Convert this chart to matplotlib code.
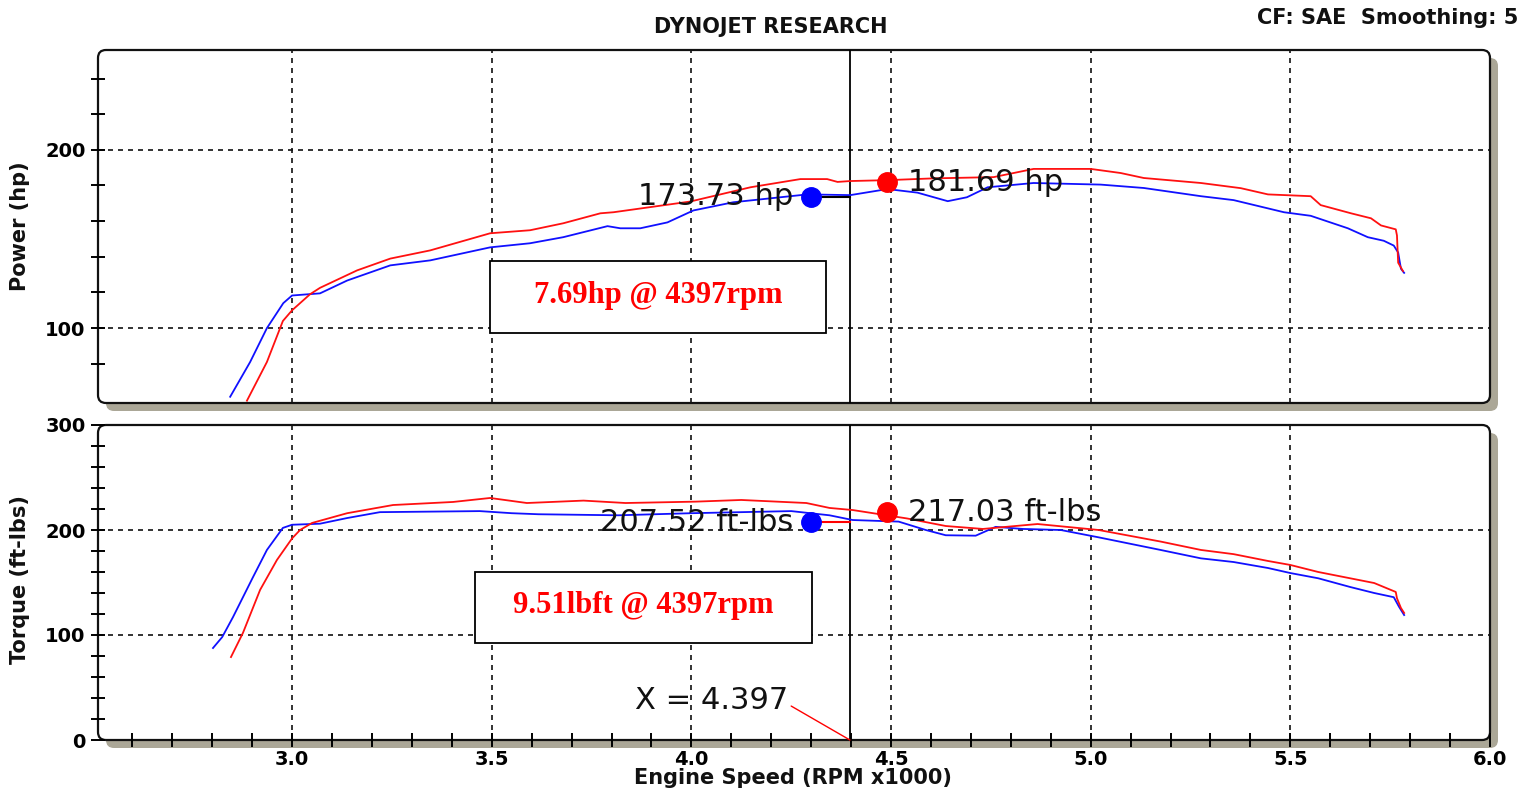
import numpy as np
import matplotlib
matplotlib.use('Agg')
import matplotlib.pyplot as plt
from matplotlib.patches import FancyBboxPatch, Rectangle
from matplotlib.ticker import FixedLocator, FuncFormatter

# =====================================================================
# DATA (engine speed in RPM x1000)
# =====================================================================
hp_blue_rpm = [2.845, 2.895, 2.937, 2.978, 3.00, 3.07, 3.138, 3.246, 3.346, 3.496, 3.596, 3.679,
               3.79, 3.822, 3.872, 3.94, 4.005, 4.105, 4.223, 4.29, 4.398, 4.491, 4.566, 4.642,
               4.69, 4.742, 4.857, 5.025, 5.133, 5.276, 5.358, 5.484, 5.551, 5.644, 5.694, 5.734,
               5.759, 5.77, 5.777, 5.785]
hp_blue = [61.5, 81, 100, 114, 118.3, 119.5, 126.7, 135.2, 138, 145.3, 147.6, 151,
           157.2, 156, 156, 159.3, 166, 170.6, 173.4, 175, 174.6, 178, 176, 171.2,
           173.4, 179, 181.4, 180.5, 178.6, 174, 171.8, 165, 163, 156, 151, 149,
           146.3, 142.4, 133.3, 131]

hp_red_rpm = [2.887, 2.937, 2.977, 3.00, 3.045, 3.07, 3.163, 3.246, 3.346, 3.496, 3.596, 3.679,
              3.772, 3.805, 3.997, 4.148, 4.273, 4.34, 4.366, 4.398, 4.491, 4.607, 4.757, 4.857,
              5.0, 5.075, 5.133, 5.276, 5.376, 5.444, 5.551, 5.576, 5.652, 5.702, 5.727, 5.764,
              5.767, 5.77, 5.782]
hp_red = [59.3, 81, 104, 110, 119, 122.6, 132.4, 139, 143.6, 153.2, 154.9, 158.8,
          164.4, 165, 171, 179, 183.6, 183.6, 182, 182.5, 183, 184, 184.7, 189.3,
          189.3, 187, 184.2, 181.4, 178.5, 175, 174, 169, 164.4, 161.6, 157.6, 155.4,
          152, 136.7, 132]

tq_blue_rpm = [2.802, 2.825, 2.852, 2.902, 2.937, 2.977, 3.00, 3.07, 3.138, 3.22, 3.47, 3.55,
               3.617, 3.817, 4.0, 4.25, 4.346, 4.404, 4.519, 4.587, 4.637, 4.712, 4.762, 4.83,
               4.925, 5.02, 5.175, 5.276, 5.358, 5.444, 5.5, 5.57, 5.65, 5.71, 5.759, 5.772, 5.785]
tq_blue = [87.6, 98, 117, 155, 181, 202, 205, 206, 211.4, 217, 218, 216,
           215, 214, 216, 218, 214, 209.5, 208, 200, 195, 194.6, 203, 201,
           200, 193, 181, 173, 169.5, 163.8, 159, 154, 145.7, 140, 136, 127, 119]

tq_red_rpm = [2.847, 2.877, 2.92, 2.962, 3.00, 3.02, 3.05, 3.138, 3.253, 3.403, 3.496, 3.588,
              3.73, 3.835, 4.01, 4.125, 4.288, 4.346, 4.404, 4.54, 4.637, 4.73, 4.867, 5.02,
              5.175, 5.276, 5.358, 5.444, 5.5, 5.57, 5.65, 5.71, 5.764, 5.767, 5.777, 5.785]
tq_red = [79, 102, 143, 171.4, 192, 200, 206.7, 216, 223.8, 226.7, 230.5, 225.7,
          228, 225.7, 227, 228.6, 225.7, 221, 219, 211, 203.8, 201, 205.7, 200,
          189, 181, 177, 170.5, 166.7, 160, 154, 149.5, 141, 135, 125.7, 121]

CURSOR_RPM = 4.397
BLUE_PEAK = (4.30, 173.73, 207.52)   # rpm, hp, ft-lbs
RED_PEAK = (4.49, 181.69, 217.03)
HP_GAIN_TEXT = "7.69hp @ 4397rpm"
TQ_GAIN_TEXT = "9.51lbft @ 4397rpm"

# =====================================================================
# LAYOUT (pixel geometry of the two panels)
# =====================================================================
W, H, DPI = 1536, 794, 100
fig = plt.figure(figsize=(W / DPI, H / DPI), dpi=DPI)

def frac(x0, y0, x1, y1):
    return [x0 / W, 1 - y1 / H, (x1 - x0) / W, (y1 - y0) / H]

PANELS = [(98, 50, 1490, 403), (98, 425, 1490, 740)]
SHADOW = '#aba797'

def add_frame(x0, y0, x1, y1):
    w, h = (x1 - x0) / DPI, (y1 - y0) / DPI
    xi, yi = x0 / DPI, (H - y1) / DPI
    sh = FancyBboxPatch((xi + 0.08, yi - 0.08), w, h, boxstyle="round,pad=0,rounding_size=0.08",
                        transform=fig.dpi_scale_trans, fc=SHADOW, ec='none', zorder=-3)
    fr = FancyBboxPatch((xi, yi), w, h, boxstyle="round,pad=0,rounding_size=0.08",
                        transform=fig.dpi_scale_trans, fc='white', ec='#111111', lw=1.6, zorder=-2)
    fig.add_artist(sh)
    fig.add_artist(fr)

for p in PANELS:
    add_frame(*p)

ax1 = fig.add_axes(frac(*PANELS[0]))
ax2 = fig.add_axes(frac(*PANELS[1]))

XLIM = (2.514, 6.0)
grid_kw = dict(color='#111111', lw=1.2, dashes=(3, 3), zorder=1)

for ax in (ax1, ax2):
    ax.patch.set_visible(False)
    for s in ax.spines.values():
        s.set_visible(False)
    ax.set_xlim(*XLIM)
    for xv in [3.0, 3.5, 4.0, 4.5, 5.0, 5.5]:
        ax.axvline(xv, **grid_kw)
    ax.axvline(CURSOR_RPM, color='black', lw=1.3, zorder=3)
    ax.tick_params(axis='y', which='both', direction='inout', length=10, width=1.4,
                   labelsize=14, pad=4)

# ---------------- Power panel ----------------
ax1.set_ylim(58, 256)
ax1.yaxis.set_major_locator(FixedLocator(np.arange(80, 241, 20)))
ax1.yaxis.set_major_formatter(FuncFormatter(lambda v, p: f"{v:.0f}" if v % 100 == 0 else ""))
ax1.tick_params(axis='x', which='both', bottom=False, labelbottom=False)
for yv in [100, 200]:
    ax1.axhline(yv, **grid_kw)

ax1.plot(hp_blue_rpm, hp_blue, color='#1010ff', lw=1.3, zorder=4)
ax1.plot(hp_red_rpm, hp_red, color='#ff1010', lw=1.3, zorder=4)

ax1.plot([BLUE_PEAK[0], CURSOR_RPM], [BLUE_PEAK[1], BLUE_PEAK[1]], color='black', lw=1.5, zorder=5)
ax1.plot(BLUE_PEAK[0], BLUE_PEAK[1], 'o', color='#0000ff', ms=14, zorder=6)
ax1.plot(RED_PEAK[0], RED_PEAK[1], 'o', color='#ff0000', ms=14, zorder=6)
ax1.annotate(f"{BLUE_PEAK[1]:.2f} hp", (BLUE_PEAK[0], BLUE_PEAK[1]), textcoords='offset points',
             xytext=(-13, 0), ha='right', va='center', fontsize=22, color='#111111', zorder=7)
ax1.annotate(f"{RED_PEAK[1]:.2f} hp", (RED_PEAK[0], RED_PEAK[1]), textcoords='offset points',
             xytext=(15, 0), ha='left', va='center', fontsize=22, color='#111111', zorder=7)

ax1.add_patch(Rectangle((3.496, 97.4), 0.842, 40.0, fc='white', ec='black', lw=1.3, zorder=8))
ax1.text(3.917, 118.2, HP_GAIN_TEXT, ha='center', va='center', fontsize=22, fontweight='bold',
         family='Liberation Serif', color='#ff0000', zorder=9)

# ---------------- Torque panel ----------------
ax2.set_ylim(0, 300)
ax2.yaxis.set_major_locator(FixedLocator(np.arange(0, 301, 20)))
ax2.yaxis.set_major_formatter(FuncFormatter(lambda v, p: f"{v:.0f}" if v % 100 == 0 else ""))
ax2.xaxis.set_major_locator(FixedLocator([3.0, 3.5, 4.0, 4.5, 5.0, 5.5, 6.0]))
ax2.xaxis.set_minor_locator(FixedLocator(np.arange(2.6, 6.0, 0.1)))
ax2.xaxis.set_major_formatter(FuncFormatter(lambda v, p: f"{v:.1f}"))
ax2.tick_params(axis='x', which='both', direction='inout', length=10, width=1.4,
                labelsize=14, pad=2)
for yv in [100, 200]:
    ax2.axhline(yv, **grid_kw)

for ax in (ax1, ax2):
    for lab in ax.get_yticklabels() + ax.get_xticklabels():
        lab.set_fontweight('bold')

ax2.plot(tq_blue_rpm, tq_blue, color='#1010ff', lw=1.3, zorder=4)
ax2.plot(tq_red_rpm, tq_red, color='#ff1010', lw=1.3, zorder=4)

ax2.plot([BLUE_PEAK[0], CURSOR_RPM], [BLUE_PEAK[2], BLUE_PEAK[2]], color='#ff0000', lw=1.5, zorder=5)
ax2.plot(BLUE_PEAK[0], BLUE_PEAK[2], 'o', color='#0000ff', ms=14, zorder=6)
ax2.plot(RED_PEAK[0], RED_PEAK[2], 'o', color='#ff0000', ms=14, zorder=6)
ax2.annotate(f"{BLUE_PEAK[2]:.2f} ft-lbs", (BLUE_PEAK[0], BLUE_PEAK[2]), textcoords='offset points',
             xytext=(-13, 0), ha='right', va='center', fontsize=22, color='#111111', zorder=7)
ax2.annotate(f"{RED_PEAK[2]:.2f} ft-lbs", (RED_PEAK[0], RED_PEAK[2]), textcoords='offset points',
             xytext=(15, 0), ha='left', va='center', fontsize=22, color='#111111', zorder=7)

ax2.add_patch(Rectangle((3.459, 92.4), 0.842, 67.6, fc='white', ec='black', lw=1.3, zorder=8))
ax2.text(3.88, 128, TQ_GAIN_TEXT, ha='center', va='center', fontsize=22, fontweight='bold',
         family='Liberation Serif', color='#ff0000', zorder=9)

ax2.annotate(f"X = {CURSOR_RPM:.3f}", xy=(CURSOR_RPM, 0), xytext=(4.243, 38),
             ha='right', va='center', fontsize=22, color='#111111', zorder=7,
             arrowprops=dict(arrowstyle='-', color='#ff0000', lw=1.0, shrinkA=0, shrinkB=0,
                             relpos=(1.0, 0.35)))

# ---------------- Figure texts ----------------
fig.text(771 / W, 1 - 27 / H, "DYNOJET RESEARCH", ha='center', va='center',
         fontsize=15, fontweight='bold', color='#111111')
fig.text(1518 / W, 1 - 18 / H, "CF: SAE  Smoothing: 5", ha='right', va='center',
         fontsize=15, fontweight='bold', color='#111111')
fig.text(20 / W, 1 - 226 / H, "Power (hp)", ha='center', va='center', rotation=90,
         fontsize=15, fontweight='bold', color='#111111')
fig.text(20 / W, 1 - 580 / H, "Torque (ft-lbs)", ha='center', va='center', rotation=90,
         fontsize=15, fontweight='bold', color='#111111')
fig.text(793 / W, 1 - 778 / H, "Engine Speed (RPM x1000)", ha='center', va='center',
         fontsize=15, fontweight='bold', color='#111111')

fig.savefig("out.png", dpi=DPI)
